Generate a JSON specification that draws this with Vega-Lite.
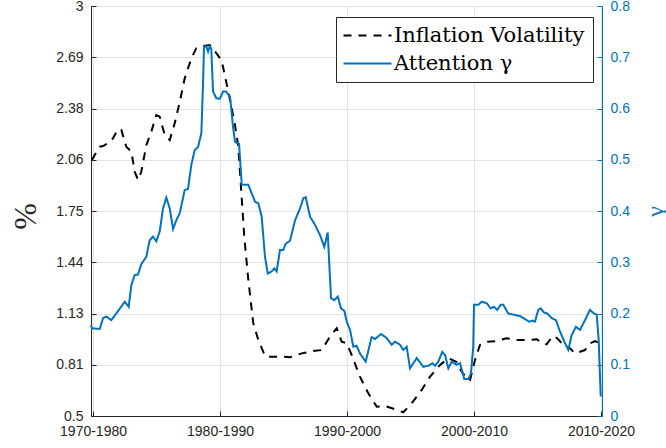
{
  "$schema": "https://vega.github.io/schema/vega-lite/v6.json",
  "width": 511,
  "height": 410,
  "autosize": {"type": "none"},
  "padding": {"left": 91, "top": 6, "right": 64, "bottom": 32},
  "background": "white",
  "datasets": {
    "infl": [
      {"t": 1979.92, "v": 2.061}, {"t": 1980.13, "v": 2.091}, {"t": 1980.53, "v": 2.142}, {"t": 1980.79, "v": 2.146},
      {"t": 1981.31, "v": 2.169}, {"t": 1981.57, "v": 2.193}, {"t": 1981.97, "v": 2.250}, {"t": 1982.23, "v": 2.244},
      {"t": 1982.62, "v": 2.142}, {"t": 1983.02, "v": 2.112}, {"t": 1983.28, "v": 1.990}, {"t": 1983.54, "v": 1.939},
      {"t": 1983.80, "v": 1.990}, {"t": 1984.20, "v": 2.152}, {"t": 1984.59, "v": 2.234}, {"t": 1984.98, "v": 2.335},
      {"t": 1985.25, "v": 2.325}, {"t": 1985.65, "v": 2.213}, {"t": 1986.04, "v": 2.183}, {"t": 1986.43, "v": 2.285},
      {"t": 1986.83, "v": 2.416}, {"t": 1987.22, "v": 2.559}, {"t": 1987.74, "v": 2.681}, {"t": 1988.13, "v": 2.742},
      {"t": 1988.66, "v": 2.756}, {"t": 1989.19, "v": 2.762}, {"t": 1989.71, "v": 2.712}, {"t": 1990.10, "v": 2.671},
      {"t": 1990.24, "v": 2.628}, {"t": 1990.79, "v": 2.427}, {"t": 1991.18, "v": 2.274}, {"t": 1991.44, "v": 2.142},
      {"t": 1991.65, "v": 1.898}, {"t": 1991.91, "v": 1.593}, {"t": 1992.23, "v": 1.329}, {"t": 1992.62, "v": 1.065},
      {"t": 1993.02, "v": 0.963}, {"t": 1993.54, "v": 0.866}, {"t": 1993.94, "v": 0.862}, {"t": 1994.86, "v": 0.862},
      {"t": 1995.51, "v": 0.858}, {"t": 1996.43, "v": 0.882}, {"t": 1997.48, "v": 0.898}, {"t": 1998.01, "v": 0.902},
      {"t": 1998.66, "v": 0.984}, {"t": 1999.19, "v": 1.035}, {"t": 1999.58, "v": 0.953}, {"t": 1999.98, "v": 0.943},
      {"t": 2000.37, "v": 0.872}, {"t": 2001.02, "v": 0.740}, {"t": 2001.68, "v": 0.638}, {"t": 2002.34, "v": 0.557},
      {"t": 2002.99, "v": 0.561}, {"t": 2003.78, "v": 0.541}, {"t": 2004.43, "v": 0.523}, {"t": 2005.09, "v": 0.577},
      {"t": 2005.88, "v": 0.659}, {"t": 2006.54, "v": 0.740}, {"t": 2007.32, "v": 0.811}, {"t": 2007.98, "v": 0.852},
      {"t": 2008.64, "v": 0.829}, {"t": 2009.03, "v": 0.770}, {"t": 2009.55, "v": 0.720}, {"t": 2009.69, "v": 0.720},
      {"t": 2010.08, "v": 0.841}, {"t": 2010.47, "v": 0.933}, {"t": 2011.00, "v": 0.953}, {"t": 2011.79, "v": 0.957},
      {"t": 2012.57, "v": 0.974}, {"t": 2013.36, "v": 0.963}, {"t": 2014.28, "v": 0.963}, {"t": 2014.94, "v": 0.968},
      {"t": 2015.33, "v": 0.947}, {"t": 2015.72, "v": 0.937}, {"t": 2016.20, "v": 0.988}, {"t": 2016.56, "v": 0.974},
      {"t": 2017.03, "v": 0.933}, {"t": 2017.56, "v": 0.913}, {"t": 2017.95, "v": 0.882}, {"t": 2018.35, "v": 0.892},
      {"t": 2018.74, "v": 0.902}, {"t": 2019.13, "v": 0.943}, {"t": 2019.53, "v": 0.957}, {"t": 2019.92, "v": 0.943}
    ],
    "gamma": [
      {"t": 1979.84, "v": 0.178}, {"t": 1979.92, "v": 0.171}, {"t": 1980.53, "v": 0.170}, {"t": 1980.79, "v": 0.191},
      {"t": 1981.05, "v": 0.194}, {"t": 1981.44, "v": 0.187}, {"t": 1981.83, "v": 0.200}, {"t": 1982.50, "v": 0.223},
      {"t": 1982.81, "v": 0.213}, {"t": 1983.02, "v": 0.256}, {"t": 1983.28, "v": 0.275}, {"t": 1983.54, "v": 0.276},
      {"t": 1983.80, "v": 0.296}, {"t": 1984.20, "v": 0.311}, {"t": 1984.46, "v": 0.343}, {"t": 1984.72, "v": 0.350},
      {"t": 1984.98, "v": 0.341}, {"t": 1985.25, "v": 0.360}, {"t": 1985.51, "v": 0.405}, {"t": 1985.77, "v": 0.426},
      {"t": 1986.04, "v": 0.405}, {"t": 1986.30, "v": 0.365}, {"t": 1986.56, "v": 0.382}, {"t": 1986.83, "v": 0.396},
      {"t": 1987.22, "v": 0.441}, {"t": 1987.48, "v": 0.443}, {"t": 1987.74, "v": 0.490}, {"t": 1988.01, "v": 0.519},
      {"t": 1988.27, "v": 0.525}, {"t": 1988.53, "v": 0.552}, {"t": 1988.66, "v": 0.646}, {"t": 1988.74, "v": 0.721},
      {"t": 1988.92, "v": 0.721}, {"t": 1989.06, "v": 0.711}, {"t": 1989.19, "v": 0.721}, {"t": 1989.31, "v": 0.717},
      {"t": 1989.45, "v": 0.633}, {"t": 1989.71, "v": 0.620}, {"t": 1989.98, "v": 0.619}, {"t": 1990.24, "v": 0.633},
      {"t": 1990.47, "v": 0.633}, {"t": 1990.79, "v": 0.623}, {"t": 1991.02, "v": 0.565}, {"t": 1991.18, "v": 0.535},
      {"t": 1991.50, "v": 0.531}, {"t": 1991.71, "v": 0.451}, {"t": 1992.23, "v": 0.451}, {"t": 1992.76, "v": 0.418},
      {"t": 1993.02, "v": 0.415}, {"t": 1993.28, "v": 0.389}, {"t": 1993.54, "v": 0.311}, {"t": 1993.76, "v": 0.278},
      {"t": 1994.07, "v": 0.282}, {"t": 1994.28, "v": 0.288}, {"t": 1994.46, "v": 0.282}, {"t": 1994.72, "v": 0.324},
      {"t": 1994.98, "v": 0.324}, {"t": 1995.17, "v": 0.336}, {"t": 1995.51, "v": 0.342}, {"t": 1995.91, "v": 0.382},
      {"t": 1996.30, "v": 0.405}, {"t": 1996.56, "v": 0.425}, {"t": 1996.75, "v": 0.427}, {"t": 1997.09, "v": 0.389},
      {"t": 1997.48, "v": 0.373}, {"t": 1997.87, "v": 0.353}, {"t": 1998.21, "v": 0.330}, {"t": 1998.48, "v": 0.358},
      {"t": 1998.74, "v": 0.230}, {"t": 1999.00, "v": 0.226}, {"t": 1999.27, "v": 0.233}, {"t": 1999.53, "v": 0.210},
      {"t": 1999.79, "v": 0.205}, {"t": 1999.98, "v": 0.184}, {"t": 2000.24, "v": 0.168}, {"t": 2000.50, "v": 0.135},
      {"t": 2000.76, "v": 0.137}, {"t": 2001.02, "v": 0.122}, {"t": 2001.47, "v": 0.106}, {"t": 2001.94, "v": 0.154},
      {"t": 2002.20, "v": 0.150}, {"t": 2002.68, "v": 0.160}, {"t": 2003.13, "v": 0.152}, {"t": 2003.52, "v": 0.139},
      {"t": 2003.78, "v": 0.145}, {"t": 2004.17, "v": 0.139}, {"t": 2004.43, "v": 0.129}, {"t": 2004.70, "v": 0.135},
      {"t": 2004.96, "v": 0.093}, {"t": 2005.49, "v": 0.113}, {"t": 2006.01, "v": 0.096}, {"t": 2006.40, "v": 0.098},
      {"t": 2006.72, "v": 0.103}, {"t": 2006.93, "v": 0.098}, {"t": 2007.19, "v": 0.106}, {"t": 2007.50, "v": 0.125},
      {"t": 2007.72, "v": 0.119}, {"t": 2007.98, "v": 0.093}, {"t": 2008.24, "v": 0.106}, {"t": 2008.63, "v": 0.100},
      {"t": 2008.90, "v": 0.103}, {"t": 2009.24, "v": 0.072}, {"t": 2009.55, "v": 0.072}, {"t": 2009.76, "v": 0.083},
      {"t": 2009.94, "v": 0.135}, {"t": 2010.00, "v": 0.217}, {"t": 2010.34, "v": 0.217}, {"t": 2010.61, "v": 0.223},
      {"t": 2011.00, "v": 0.220}, {"t": 2011.31, "v": 0.210}, {"t": 2011.57, "v": 0.213}, {"t": 2011.83, "v": 0.207},
      {"t": 2012.10, "v": 0.217}, {"t": 2012.31, "v": 0.217}, {"t": 2012.70, "v": 0.200}, {"t": 2013.23, "v": 0.197},
      {"t": 2013.62, "v": 0.195}, {"t": 2014.02, "v": 0.189}, {"t": 2014.35, "v": 0.184}, {"t": 2014.62, "v": 0.186},
      {"t": 2014.80, "v": 0.184}, {"t": 2015.06, "v": 0.207}, {"t": 2015.25, "v": 0.210}, {"t": 2015.51, "v": 0.202},
      {"t": 2015.77, "v": 0.200}, {"t": 2016.12, "v": 0.191}, {"t": 2016.46, "v": 0.187}, {"t": 2016.72, "v": 0.168},
      {"t": 2017.17, "v": 0.142}, {"t": 2017.43, "v": 0.129}, {"t": 2017.69, "v": 0.158}, {"t": 2018.03, "v": 0.174},
      {"t": 2018.35, "v": 0.168}, {"t": 2018.74, "v": 0.187}, {"t": 2019.13, "v": 0.207}, {"t": 2019.45, "v": 0.200},
      {"t": 2019.66, "v": 0.198}, {"t": 2019.82, "v": 0.148}, {"t": 2019.98, "v": 0.038}
    ]
  },
  "layer": [
    {
      "data": {"name": "infl"},
      "transform": [{"calculate": "'Inflation Volatility'", "as": "s"}],
      "mark": {"type": "line", "strokeWidth": 2, "interpolate": "linear"},
      "encoding": {
        "x": {"field": "t", "type": "quantitative", "scale": {"domain": [1979.84, 2020.08], "nice": false, "zero": false},
          "axis": {"values": [1980, 1990, 2000, 2010, 2020], "labelExpr": "(datum.value - 10) + '-' + datum.value", "title": null,
            "grid": true, "gridColor": "#e3e3e3", "domainColor": "#262626", "tickColor": "#262626", "tickSize": -5,
            "labelFont": "Liberation Sans", "labelFontSize": 14, "labelColor": "#262626", "labelPadding": 13}},
        "y": {"field": "v", "type": "quantitative", "scale": {"domain": [0.5, 3], "nice": false, "zero": false},
          "axis": {"orient": "left", "values": [0.5, 0.8125, 1.125, 1.4375, 1.75, 2.0625, 2.375, 2.6875, 3],
            "labelExpr": "datum.value < 0.6 ? '0.5' : datum.value < 0.9 ? '0.81' : datum.value < 1.2 ? '1.13' : datum.value < 1.5 ? '1.44' : datum.value < 1.8 ? '1.75' : datum.value < 2.1 ? '2.06' : datum.value < 2.4 ? '2.38' : datum.value < 2.7 ? '2.69' : '3'",
            "grid": true, "gridColor": "#e3e3e3", "domainColor": "#262626", "tickColor": "#262626", "tickSize": -5,
            "labelFont": "Liberation Sans", "labelFontSize": 14, "labelColor": "#262626", "labelPadding": 13,
            "title": "%", "titleFont": "Liberation Serif", "titleFontSize": 32, "titleFontWeight": "normal", "titleColor": "#262626",
            "titleX": -66, "titleY": 210, "titleAlign": "center", "titleBaseline": "middle", "titleAngle": -90}},
        "color": {"field": "s", "type": "nominal", "scale": {"domain": ["Inflation Volatility", "Attention γ"], "range": ["#000000", "#0072BD"]},
          "legend": {"orient": "none", "legendX": 245, "legendY": 11, "title": null, "symbolType": "M-3,0H3", "symbolSize": 256, "symbolStrokeWidth": 2, "symbolOffset": 13,
            "labelFont": "DejaVu Serif", "labelFontSize": 21, "labelColor": "#000000", "labelOffset": 16, "labelLimit": 400, "rowPadding": 6,
            "padding": 8, "strokeColor": "#262626", "fillColor": "#ffffff"}},
        "strokeDash": {"field": "s", "type": "nominal", "scale": {"domain": ["Inflation Volatility", "Attention γ"], "range": [[8, 7], [1, 0]]},
          "legend": {"orient": "none", "legendX": 245, "legendY": 11, "title": null, "symbolType": "M-3,0H3", "symbolSize": 256, "symbolStrokeWidth": 2, "symbolOffset": 13,
            "labelFont": "DejaVu Serif", "labelFontSize": 21, "labelColor": "#000000", "labelOffset": 16, "labelLimit": 400, "rowPadding": 6,
            "padding": 8, "strokeColor": "#262626", "fillColor": "#ffffff"}}
      }
    },
    {
      "data": {"name": "gamma"},
      "transform": [{"calculate": "'Attention γ'", "as": "s"}],
      "mark": {"type": "line", "strokeWidth": 2, "interpolate": "linear"},
      "encoding": {
        "x": {"field": "t", "type": "quantitative"},
        "y": {"field": "v", "type": "quantitative", "scale": {"domain": [0, 0.8], "nice": false, "zero": false},
          "axis": {"orient": "right", "values": [0, 0.1, 0.2, 0.3, 0.4, 0.5, 0.6, 0.7, 0.8], "format": "~g",
            "grid": false, "domainColor": "#0072BD", "tickColor": "#0072BD", "tickSize": -5,
            "labelFont": "Liberation Sans", "labelFontSize": 14, "labelColor": "#0072BD", "labelPadding": 13,
            "title": "γ", "titleFont": "Liberation Serif", "titleFontSize": 24, "titleFontWeight": "normal", "titleColor": "#0072BD",
            "titleX": 53, "titleY": 205, "titleAlign": "center", "titleBaseline": "middle", "titleAngle": -90}},
        "color": {"field": "s", "type": "nominal"},
        "strokeDash": {"field": "s", "type": "nominal"}
      }
    }
  ],
  "resolve": {"scale": {"y": "independent"}},
  "config": {"view": {"stroke": "#262626", "strokeWidth": 1}}
}
